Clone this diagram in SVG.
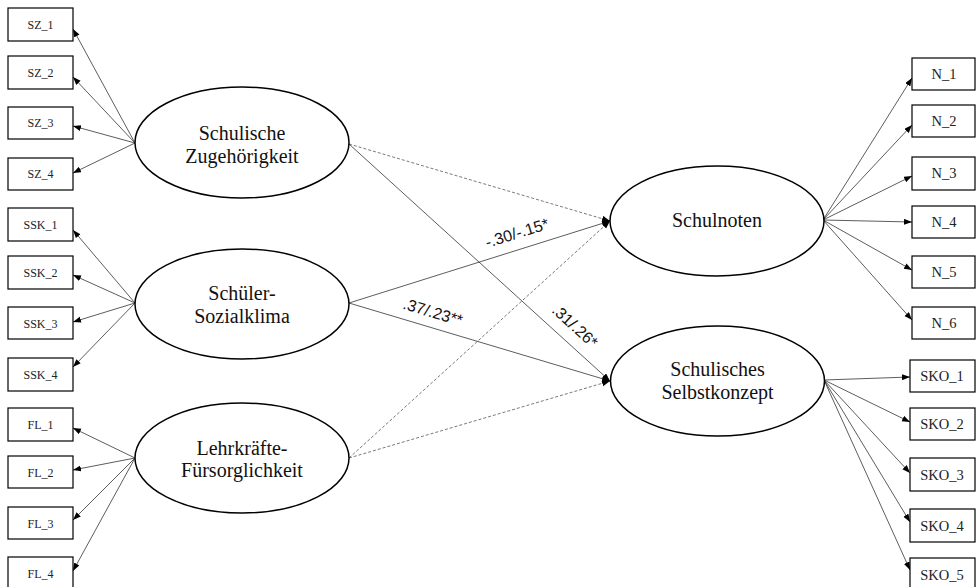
<svg xmlns="http://www.w3.org/2000/svg" width="976" height="587" viewBox="0 0 976 587">
<style>
.box{fill:#fff;stroke:#000;stroke-width:1.2}
.lat{fill:#fff;stroke:#000;stroke-width:1.5}
.lt{font-family:"Liberation Serif","Times New Roman",serif;font-size:12px;fill:#222;text-anchor:middle}
.rt{font-family:"Liberation Serif","Times New Roman",serif;font-size:14.5px;fill:#222;text-anchor:middle}
.et{font-family:"Liberation Serif","Times New Roman",serif;font-size:20px;fill:#111;text-anchor:middle}
.c{stroke:#333;stroke-width:0.8;fill:none;marker-end:url(#ah)}
.d{stroke:#555;stroke-width:0.8;fill:none;stroke-dasharray:3,2;marker-end:url(#ah)}
.pl{font-family:"Liberation Sans",Arial,sans-serif;font-size:16px;fill:#111;text-anchor:middle}
</style>
<defs>
<marker id="ah" markerUnits="userSpaceOnUse" markerWidth="9" markerHeight="7" refX="8" refY="3" orient="auto">
<path d="M0,0 L8,3 L0,6 z" fill="#000"/>
</marker>
</defs>
<g id="connectors">
<line class="c" x1="135" y1="143" x2="73" y2="29"/>
<line class="c" x1="135" y1="143" x2="73" y2="77"/>
<line class="c" x1="135" y1="143" x2="73" y2="126"/>
<line class="c" x1="135" y1="143" x2="73" y2="173"/>
<line class="c" x1="135" y1="303" x2="73" y2="230"/>
<line class="c" x1="135" y1="303" x2="73" y2="275"/>
<line class="c" x1="135" y1="303" x2="73" y2="322"/>
<line class="c" x1="135" y1="303" x2="73" y2="367"/>
<line class="c" x1="135" y1="458" x2="73" y2="428"/>
<line class="c" x1="135" y1="458" x2="73" y2="470"/>
<line class="c" x1="135" y1="458" x2="73" y2="520"/>
<line class="c" x1="135" y1="458" x2="73" y2="571"/>
<line class="c" x1="823" y1="220" x2="912" y2="78"/>
<line class="c" x1="823" y1="220" x2="912" y2="125"/>
<line class="c" x1="823" y1="220" x2="912" y2="176"/>
<line class="c" x1="823" y1="220" x2="912" y2="222"/>
<line class="c" x1="823" y1="220" x2="912" y2="270"/>
<line class="c" x1="823" y1="220" x2="912" y2="320"/>
<line class="c" x1="824" y1="380" x2="910" y2="377"/>
<line class="c" x1="824" y1="380" x2="910" y2="422"/>
<line class="c" x1="824" y1="380" x2="910" y2="473"/>
<line class="c" x1="824" y1="380" x2="910" y2="522"/>
<line class="c" x1="824" y1="380" x2="910" y2="570"/>
<line class="d" x1="349" y1="144" x2="610" y2="221"/>
<line class="c" x1="349" y1="144" x2="610" y2="381"/>
<line class="c" x1="349" y1="303" x2="610" y2="221"/>
<line class="c" x1="349" y1="303" x2="610" y2="381"/>
<line class="d" x1="349" y1="458" x2="610" y2="221"/>
<line class="d" x1="349" y1="458" x2="610" y2="381"/>
<text class="pl" transform="translate(518.6,238.2) rotate(-17.4)">-.30/-.15*</text>
<text class="pl" transform="translate(431.4,317.3) rotate(16.6)">.37/.23**</text>
<text class="pl" transform="translate(571.3,330.1) rotate(42.3)">.31/.26*</text>
</g>
<g id="SZ_1"><rect class="box" x="8" y="8" width="65" height="33"/><text class="lt" x="40.5" y="29">SZ_1</text></g>
<g id="SZ_2"><rect class="box" x="8" y="56" width="65" height="33"/><text class="lt" x="40.5" y="77">SZ_2</text></g>
<g id="SZ_3"><rect class="box" x="8" y="107" width="65" height="32"/><text class="lt" x="40.5" y="127">SZ_3</text></g>
<g id="SZ_4"><rect class="box" x="8" y="158" width="65" height="32"/><text class="lt" x="40.5" y="178">SZ_4</text></g>
<g id="SSK_1"><rect class="box" x="8" y="208" width="65" height="33"/><text class="lt" x="40.5" y="229">SSK_1</text></g>
<g id="SSK_2"><rect class="box" x="8" y="256" width="65" height="33"/><text class="lt" x="40.5" y="277">SSK_2</text></g>
<g id="SSK_3"><rect class="box" x="8" y="307" width="65" height="32"/><text class="lt" x="40.5" y="328">SSK_3</text></g>
<g id="SSK_4"><rect class="box" x="8" y="358" width="65" height="33"/><text class="lt" x="40.5" y="379">SSK_4</text></g>
<g id="FL_1"><rect class="box" x="8" y="408" width="65" height="33"/><text class="lt" x="40.5" y="429">FL_1</text></g>
<g id="FL_2"><rect class="box" x="8" y="456" width="65" height="32"/><text class="lt" x="40.5" y="477">FL_2</text></g>
<g id="FL_3"><rect class="box" x="8" y="507" width="65" height="32"/><text class="lt" x="40.5" y="528">FL_3</text></g>
<g id="FL_4"><rect class="box" x="8" y="557" width="65" height="33"/><text class="lt" x="40.5" y="578">FL_4</text></g>
<g id="N_1"><rect class="box" x="912" y="58" width="63" height="32"/><text class="rt" x="944" y="79">N_1</text></g>
<g id="N_2"><rect class="box" x="912" y="105" width="63" height="32"/><text class="rt" x="944" y="126">N_2</text></g>
<g id="N_3"><rect class="box" x="912" y="157" width="63" height="33"/><text class="rt" x="944" y="178">N_3</text></g>
<g id="N_4"><rect class="box" x="912" y="206" width="63" height="32"/><text class="rt" x="944" y="227">N_4</text></g>
<g id="N_5"><rect class="box" x="912" y="256" width="63" height="32"/><text class="rt" x="944" y="277">N_5</text></g>
<g id="N_6"><rect class="box" x="912" y="307" width="63" height="32"/><text class="rt" x="944" y="328">N_6</text></g>
<g id="SKO_1"><rect class="box" x="910" y="360" width="65" height="32"/><text class="rt" x="942" y="381">SKO_1</text></g>
<g id="SKO_2"><rect class="box" x="910" y="408" width="65" height="32"/><text class="rt" x="942" y="429">SKO_2</text></g>
<g id="SKO_3"><rect class="box" x="910" y="458" width="65" height="33"/><text class="rt" x="942" y="480">SKO_3</text></g>
<g id="SKO_4"><rect class="box" x="910" y="509" width="65" height="33"/><text class="rt" x="942" y="531">SKO_4</text></g>
<g id="SKO_5"><rect class="box" x="910" y="558" width="65" height="33"/><text class="rt" x="942" y="580">SKO_5</text></g>
<g id="SchulischeZugehoerigkeit"><ellipse class="lat" cx="242" cy="142.5" rx="107" ry="55.5"/><text class="et" x="242" y="140">Schulische</text><text class="et" x="242" y="163">Zugehörigkeit</text></g>
<g id="SchuelerSozialklima"><ellipse class="lat" cx="242" cy="304" rx="107" ry="55"/><text class="et" x="242" y="300">Schüler-</text><text class="et" x="242" y="323">Sozialklima</text></g>
<g id="LehrkraefteFuersorglichkeit"><ellipse class="lat" cx="242" cy="458" rx="107" ry="55"/><text class="et" x="242" y="455">Lehrkräfte-</text><text class="et" x="242" y="477">Fürsorglichkeit</text></g>
<g id="Schulnoten"><ellipse class="lat" cx="717" cy="221" rx="107" ry="55"/><text class="et" x="717" y="227">Schulnoten</text></g>
<g id="SchulischesSelbstkonzept"><ellipse class="lat" cx="717.5" cy="381" rx="107" ry="55"/><text class="et" x="717.5" y="376">Schulisches</text><text class="et" x="717.5" y="399">Selbstkonzept</text></g>
</svg>
